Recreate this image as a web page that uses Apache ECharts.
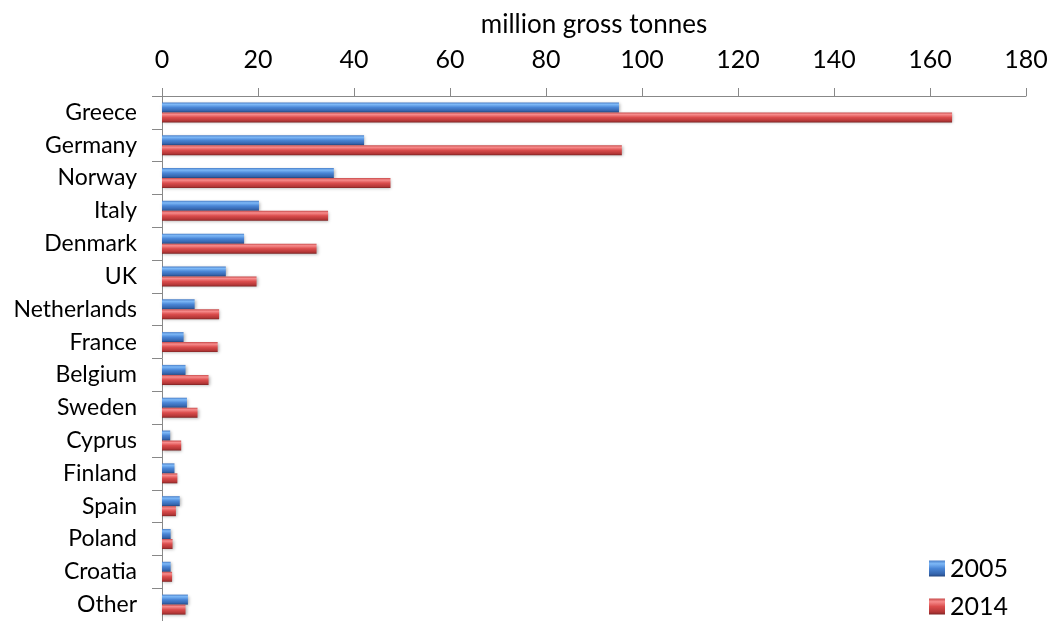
<!DOCTYPE html>
<html>
<head>
<meta charset="utf-8">
<script src="https://cdn.jsdelivr.net/npm/echarts@6/dist/echarts.min.js"></script>
<style>
html,body{margin:0;padding:0;background:#fff;}
#chart{width:1051px;height:621px;}
</style>
</head>
<body>
<div id="chart"></div>
<script>
var categories = ["Greece","Germany","Norway","Italy","Denmark","UK","Netherlands","France","Belgium","Sweden","Cyprus","Finland","Spain","Poland","Croatia","Other"];
var values2005 = [95.2, 42.1, 35.8, 20.2, 17.1, 13.3, 6.8, 4.5, 4.9, 5.2, 1.7, 2.6, 3.7, 1.8, 1.8, 5.4];
var values2014 = [164.6, 95.8, 47.6, 34.6, 32.2, 19.7, 11.9, 11.6, 9.7, 7.4, 4.0, 3.2, 2.9, 2.2, 2.1, 4.9];
var seriesNames = ["2005", "2014"];
var axisTitle = "million gross tonnes";

var FONT = "Lato, 'Open Sans', sans-serif";

function grad(stops) {
  return new echarts.graphic.LinearGradient(0, 0, 0, 1, stops.map(function (s) { return { offset: s[0], color: s[1] }; }));
}
var blueFill = grad([[0, '#4a7fc8'], [0.2, '#7db8f7'], [0.5, '#4a86d6'], [0.85, '#3565ad'], [1, '#24467e']]);
var redFill = grad([[0, '#c84b4b'], [0.2, '#f78c8c'], [0.5, '#db4d4d'], [0.85, '#b33636'], [1, '#7d2424']]);
var fills = [blueFill, redFill];

function legendFor(i, top) {
  return {
    orient: 'vertical',
    left: 924,
    top: top,
    itemWidth: 16,
    itemHeight: 16,
    itemGap: 6,
    icon: 'rect',
    textStyle: { fontFamily: FONT, fontSize: 25, color: '#000' },
    data: [{ name: seriesNames[i], itemStyle: { color: fills[i] } }]
  };
}

var chart = echarts.init(document.getElementById('chart'), null, { renderer: 'canvas' });
chart.setOption({
  animation: false,
  backgroundColor: '#ffffff',
  textStyle: { fontFamily: FONT },
  grid: { left: 162, right: 25, top: 96, bottom: -4, containLabel: false },
  legend: [legendFor(0, 551), legendFor(1, 589)],
  xAxis: {
    type: 'value',
    position: 'top',
    min: 0,
    max: 180,
    interval: 20,
    name: axisTitle,
    nameLocation: 'middle',
    nameGap: 58,
    nameTextStyle: { fontFamily: FONT, fontSize: 26, color: '#000' },
    axisLine: { show: true, lineStyle: { color: '#888888', width: 1 } },
    axisTick: { show: true, length: 8, lineStyle: { color: '#888888' } },
    axisLabel: { fontFamily: FONT, fontSize: 25, color: '#000', margin: 24 },
    splitLine: { show: false }
  },
  yAxis: {
    type: 'category',
    inverse: true,
    data: categories,
    axisLine: { show: true, lineStyle: { color: '#888888', width: 1 } },
    axisTick: { show: true, length: 10, alignWithLabel: false, lineStyle: { color: '#888888' } },
    axisLabel: { fontFamily: FONT, fontSize: 23, color: '#000', margin: 25 },
    splitLine: { show: false }
  },
  series: [
    {
      name: seriesNames[0],
      type: 'bar',
      data: values2005,
      barWidth: 10,
      barGap: '0%',
      itemStyle: { color: blueFill, shadowColor: 'rgba(0,0,0,0.3)', shadowBlur: 3, shadowOffsetX: 1, shadowOffsetY: 1 }
    },
    {
      name: seriesNames[1],
      type: 'bar',
      data: values2014,
      barWidth: 10,
      barGap: '0%',
      itemStyle: { color: redFill, shadowColor: 'rgba(0,0,0,0.3)', shadowBlur: 3, shadowOffsetX: 1, shadowOffsetY: 1 }
    }
  ]
});
</script>
</body>
</html>
